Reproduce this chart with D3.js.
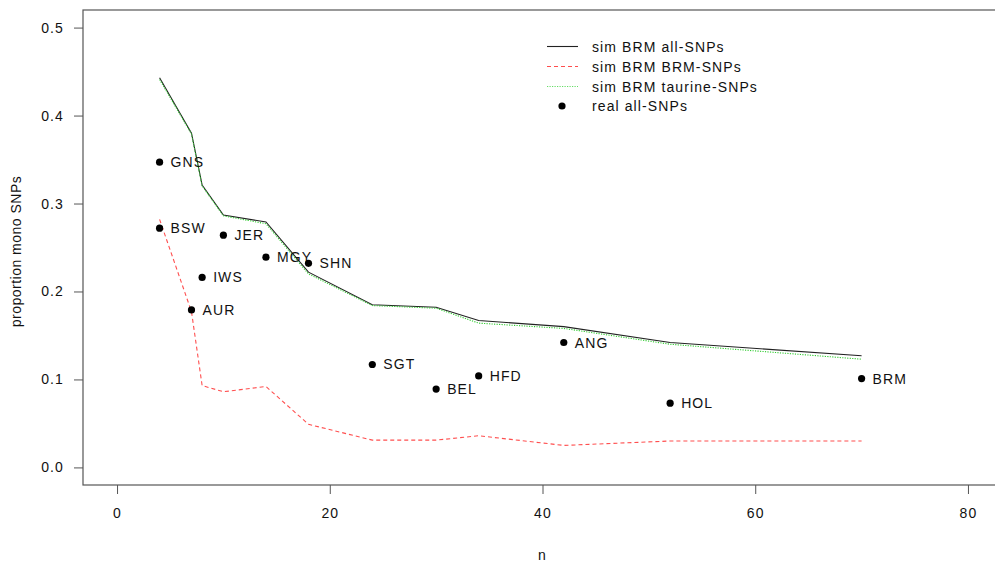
<!DOCTYPE html>
<html>
<head>
<meta charset="utf-8">
<script src="https://cdn.jsdelivr.net/npm/d3@7"></script>
<style>
  html, body { margin: 0; padding: 0; background: #fff; }
  svg { display: block; }
  text { font-family: "Liberation Sans", Arial, sans-serif; fill: #111; }
</style>
</head>
<body>
<svg id="chart" width="995" height="565"></svg>
<script>
// Simulated curves (x = sample size n)
const simN = [4, 7, 8, 10, 14, 18, 24, 30, 34, 42, 52, 70];
const simAll = [0.443, 0.380, 0.321, 0.287, 0.279, 0.222, 0.185, 0.182, 0.167, 0.160, 0.142, 0.127];
const simBRM = [0.282, 0.177, 0.093, 0.086, 0.092, 0.049, 0.031, 0.031, 0.036, 0.025, 0.030, 0.030];
const simTaurine = [0.441, 0.379, 0.320, 0.286, 0.277, 0.220, 0.184, 0.181, 0.164, 0.158, 0.140, 0.123];

// Real breeds
const breeds = ["GNS", "BSW", "JER", "IWS", "AUR", "MGY", "SHN", "SGT", "BEL", "HFD", "ANG", "HOL", "BRM"];
const breedN = [4, 4, 10, 8, 7, 14, 18, 24, 30, 34, 42, 52, 70];
const breedVal = [0.347, 0.272, 0.264, 0.216, 0.179, 0.239, 0.232, 0.117, 0.089, 0.104, 0.142, 0.073, 0.101];

const xTicks = [0, 20, 40, 60, 80];
const yTicks = [0.0, 0.1, 0.2, 0.3, 0.4, 0.5];
const legendLabels = ["sim BRM all-SNPs", "sim BRM BRM-SNPs", "sim BRM taurine-SNPs", "real all-SNPs"];

const svg = d3.select("#chart");
const box = {left: 83, right: 1002, top: 10, bottom: 485};

const x = d3.scaleLinear().domain([-3.2, 83.2]).range([box.left, box.right]);
const y = d3.scaleLinear().domain([-0.02, 0.52]).range([box.bottom, box.top]);

const FS = 14;
const LS = "1.1px";

// axes
const xAxis = svg.append("g").attr("transform", `translate(0,${box.bottom})`)
  .call(d3.axisBottom(x).tickValues(xTicks).tickFormat(d3.format("d")).tickSize(9).tickPadding(14));
const yAxis = svg.append("g").attr("transform", `translate(${box.left},0)`)
  .call(d3.axisLeft(y).tickValues(yTicks).tickFormat(d3.format(".1f")).tickSize(9).tickPadding(10));
[xAxis, yAxis].forEach(g => {
  g.select(".domain").remove();
  g.selectAll(".tick line").attr("stroke", "#555");
  g.selectAll(".tick text").attr("font-size", FS).attr("fill", "#111")
    .style("font-family", '"Liberation Sans", Arial, sans-serif').style("letter-spacing", LS);
});

// box
svg.append("rect").attr("x", box.left).attr("y", box.top)
  .attr("width", box.right - box.left).attr("height", box.bottom - box.top)
  .attr("fill", "none").attr("stroke", "#555").attr("stroke-width", 1.2);

// axis titles
svg.append("text").attr("x", x(40)).attr("y", 560).attr("text-anchor", "middle")
  .attr("font-size", FS).style("letter-spacing", LS).text("n");
svg.append("text").attr("transform", `translate(21,${(box.top + box.bottom) / 2 + 4}) rotate(-90)`)
  .attr("text-anchor", "middle").attr("font-size", FS).style("letter-spacing", "0.5px")
  .text("proportion mono SNPs");

const line = vals => d3.line().x((d, i) => x(simN[i])).y(d => y(d))(vals);

svg.append("path").attr("d", line(simAll)).attr("fill", "none")
  .attr("stroke", "#222").attr("stroke-width", 1.1);
svg.append("path").attr("d", line(simBRM)).attr("fill", "none")
  .attr("stroke", "#ff3030").attr("stroke-width", 1.1).attr("stroke-dasharray", "4,3").attr("opacity", 0.85);
svg.append("path").attr("d", line(simTaurine)).attr("fill", "none")
  .attr("stroke", "#33cc33").attr("stroke-width", 1.1).attr("stroke-dasharray", "1.2,1.3");

// points
const pts = svg.append("g");
breeds.forEach((b, i) => {
  pts.append("circle").attr("cx", x(breedN[i])).attr("cy", y(breedVal[i])).attr("r", 3.6).attr("fill", "#000");
  pts.append("text").attr("x", x(breedN[i]) + 11).attr("y", y(breedVal[i]) + 5)
    .attr("font-size", FS).style("letter-spacing", LS).text(b);
});

// legend
const lg = svg.append("g");
const rowsY = [46.5, 66.5, 86.5, 106];
const lx0 = 547, lx1 = 578, tx = 592;
lg.append("line").attr("x1", lx0).attr("x2", lx1).attr("y1", rowsY[0]).attr("y2", rowsY[0])
  .attr("stroke", "#222").attr("stroke-width", 1.1);
lg.append("line").attr("x1", lx0).attr("x2", lx1).attr("y1", rowsY[1]).attr("y2", rowsY[1])
  .attr("stroke", "#ff3030").attr("stroke-width", 1.1).attr("stroke-dasharray", "4,3").attr("opacity", 0.85);
lg.append("line").attr("x1", lx0).attr("x2", lx1).attr("y1", rowsY[2]).attr("y2", rowsY[2])
  .attr("stroke", "#66dd66").attr("stroke-width", 1.1).attr("stroke-dasharray", "1.2,1.3");
lg.append("circle").attr("cx", 562).attr("cy", rowsY[3]).attr("r", 3.6).attr("fill", "#000");
legendLabels.forEach((t, i) => {
  lg.append("text").attr("x", tx).attr("y", rowsY[i] + 5).attr("font-size", FS)
    .style("letter-spacing", LS).text(t);
});
</script>
</body>
</html>
